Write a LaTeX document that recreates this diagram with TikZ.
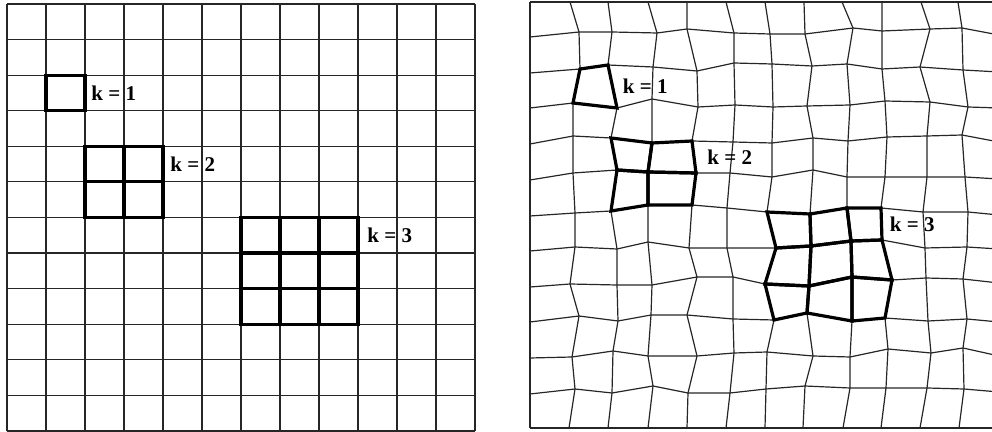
\documentclass[tikz,border=0pt]{standalone}
\usepackage{fontspec}
\setmainfont{Liberation Serif}
\usetikzlibrary{positioning,calc}
\tikzset{
  gl/.style={draw=black!85,line width=0.6pt},
  bl/.style={draw=black,line width=1.6pt,line join=miter},
  lbl/.style={inner sep=0pt,font=\fontsize{10.5}{12}\selectfont\bfseries},
}
\def\kcells{1/2,2/4,3/4,2/5,3/5,6/6,7/6,8/6,6/7,7/7,8/7,6/8,7/8,8/8}

\begin{document}
\begin{tikzpicture}[x=0.5pt,y=-0.5pt]
  \useasboundingbox (0,0) rectangle (992,432);
  \clip (0,0) rectangle (992,432);

  % regular grid
  \foreach \i in {0,...,12}
    \foreach \j in {0,...,12}
      \coordinate (u-\i-\j) at (7+39*\i,4+35.58*\j);
  \foreach \k in {0,...,12} {
    \draw[gl] (u-0-\k) -- (u-12-\k);
    \draw[gl] (u-\k-0) -- (u-\k-12);
  }
  \foreach \i/\j [evaluate=\i as \ii using int(\i+1), evaluate=\j as \jj using int(\j+1)] in \kcells
    \draw[bl] (u-\i-\j) rectangle (u-\ii-\jj);
  \node[lbl, right=3pt of $(u-2-2)!.5!(u-2-3)$] (lk1) {k = 1};
  \node[lbl, right=3.5pt of $(u-4-4)!.5!(u-4-5)$] (lk2) {k = 2};
  \node[lbl, right=4.5pt of $(u-9-6)!.5!(u-9-7)$] (lk3) {k = 3};

  % deformed grid
  \foreach \i/\x in {0/530,1/570,2/608,3/648,4/687,5/726,6/765,7/804,8/842,9/882,10/921,11/958,12/999}
    \coordinate (v-\i-0) at (\x,2);
  \foreach \i/\x in {0/530,1/569,2/608,3/648,4/687,5/726,6/765,7/803,8/843,9/881,10/920,11/959,12/999}
    \coordinate (v-\i-12) at (\x,428);
  \foreach \j/\y in {1/37,2/73,3/108,4/144,5/180,6/216,7/251,8/287,9/322,10/358,11/394}
    \coordinate (v-0-\j) at (530,\y);
  \foreach \j/\y in {1/35,2/72,3/108,4/142,5/179,6/215,7/249,8/283,9/322,10/356,11/392}
    \coordinate (v-12-\j) at (999,\y);
  \foreach \i/\x/\y in {1/579/32,2/612/32,3/657/33,4/687/29,5/734/33,6/770/34,7/805/34,8/853/28,9/882/31,10/930/29,11/962/28}
    \coordinate (v-\i-1) at (\x,\y);
  \foreach \i/\x/\y in {1/580/69,2/608/65,3/653/67,4/697/71,5/734/63,6/772/64,7/812/66,8/847/64,9/882/69,10/920/67,11/963/70}
    \coordinate (v-\i-2) at (\x,\y);
  \foreach \i/\x/\y in {1/573/103,2/617/108,3/652/99,4/698/107,5/735/105,6/773/107,7/807/106,8/850/105,9/885/101,10/930/102,11/968/107}
    \coordinate (v-\i-3) at (\x,\y);
  \foreach \i/\x/\y in {1/573/136,2/611/138,3/652/143,4/692/141,5/733/142,6/772/143,7/813/138,8/848/141,9/887/137,10/927/136,11/962/135}
    \coordinate (v-\i-4) at (\x,\y);
  \foreach \i/\x/\y in {1/573/173,2/617/170,3/648/172,4/696/173,5/730/173,6/772/177,7/813/170,8/847/177,9/885/177,10/927/177,11/965/177}
    \coordinate (v-\i-5) at (\x,\y);
  \foreach \i/\x/\y in {1/575/213,2/611/211,3/648/205,4/692/205,5/727/208,6/767/212,7/810/214,8/847/208,9/881/208,10/923/212,11/968/212}
    \coordinate (v-\i-6) at (\x,\y);
  \foreach \i/\x/\y in {1/575/247,2/617/249,3/648/242,4/689/248,5/727/248,6/776/248,7/811/246,8/851/241,9/882/240,10/925/248,11/967/247}
    \coordinate (v-\i-7) at (\x,\y);
  \foreach \i/\x/\y in {1/570/284,2/617/285,3/652/285,4/697/277,5/733/277,6/765/284,7/809/286,8/852/277,9/892/280,10/926/278,11/963/279}
    \coordinate (v-\i-8) at (\x,\y);
  \foreach \i/\x/\y in {1/579/316,2/618/321,3/651/315,4/687/315,5/733/319,6/774/320,7/807/313,8/852/321,9/885/318,10/928/321,11/967/319}
    \coordinate (v-\i-9) at (\x,\y);
  \foreach \i/\x/\y in {1/572/357,2/613/351,3/648/356,4/697/356,5/734/353,6/767/352,7/813/356,8/850/357,9/888/349,10/931/353,11/963/348}
    \coordinate (v-\i-10) at (\x,\y);
  \foreach \i/\x/\y in {1/575/389,2/612/393,3/653/386,4/688/393,5/730/393,6/766/389,7/805/386,8/850/388,9/886/388,10/927/388,11/964/389}
    \coordinate (v-\i-11) at (\x,\y);
  \foreach \k in {0,...,12} {
    \draw[gl] (v-0-\k) \foreach \m in {1,...,12} {-- (v-\m-\k)};
    \draw[gl] (v-\k-0) \foreach \m in {1,...,12} {-- (v-\k-\m)};
  }
  \foreach \i/\j [evaluate=\i as \ii using int(\i+1), evaluate=\j as \jj using int(\j+1)] in \kcells
    \draw[bl] (v-\i-\j) -- (v-\ii-\j) -- (v-\ii-\jj) -- (v-\i-\jj) -- cycle;
  \node[lbl, right=5pt of $(v-2-2)!.5!(v-2-3)$] (rk1) {k = 1};
  \node[lbl, right=6.5pt of $(v-4-4)!.5!(v-4-5)$] (rk2) {k = 2};
  \node[lbl, right=4pt of $(v-9-6)!.5!(v-9-7)$] (rk3) {k = 3};
\end{tikzpicture}
\end{document}
